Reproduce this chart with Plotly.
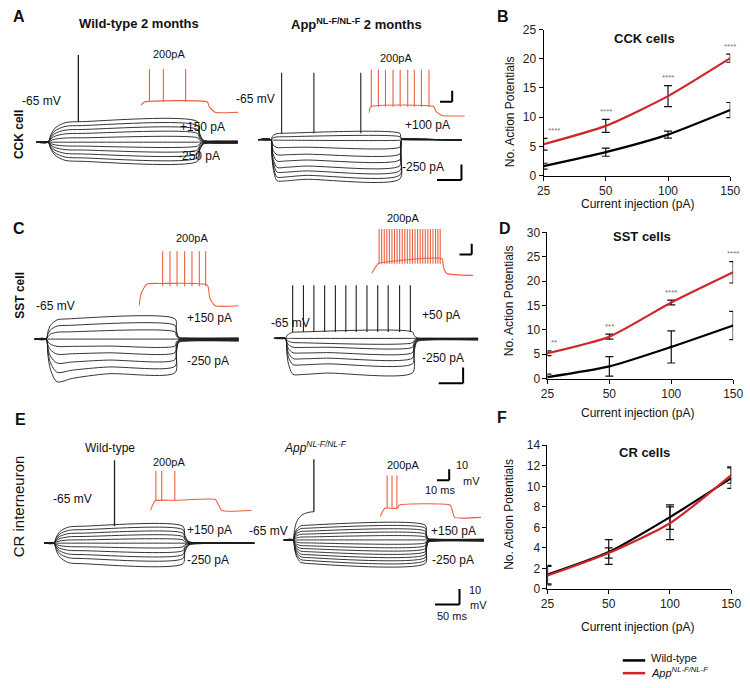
import plotly.graph_objects as go

W, H = 750, 688
RED = "#cf262c"
INSET_RED = "#ec5f40"
TRACE = "#1e1e1e"
FONT = "Liberation Sans, Arial, sans-serif"

# ---------------- summary data (panels B, D, F) ----------------
currents = ["25", "50", "100", "150"]

cck_wt = [1.6, 4.0, 7.0, 11.2]
cck_wt_err = [0.5, 0.7, 0.6, 1.3]
cck_app = [5.35, 8.5, 13.6, 20.1]
cck_app_err = [1.0, 1.1, 1.8, 0.7]
cck_stars = ["****", "****", "****", "****"]

sst_wt = [0.3, 2.5, 6.5, 10.9]
sst_wt_err = [0.6, 2.0, 3.3, 2.9]
sst_app = [5.2, 8.6, 15.6, 21.8]
sst_app_err = [0.5, 0.5, 0.5, 2.2]
sst_stars = ["**", "***", "****", "****"]

cr_wt = [1.4, 3.6, 7.0, 10.8]
cr_wt_err = [0.9, 1.2, 1.2, 1.0]
cr_app = [1.3, 3.5, 6.4, 11.1]
cr_app_err = [0.9, 0.5, 1.6, 0.8]

# ---------------- example recordings (ms, mV) ----------------
# step protocol: [step on, step off, end of sweep] (ms)
a_wt_timing = [24, 330, 412]
a_wt_levels = [-51.9, -54.4, -56.9, -59.4, -62.2, -65.0, -67.5, -70.0, -72.5, -75.0, -77.2]
a_wt_sag = [0, 0, 0, 0, 0, 0, 0, 0, 0, 0, 0]
a_wt_spikes = [86]
a_wt_peak = -9.4

a_app_timing = [26, 290, 416]
a_app_levels = [-60.9, -63.1, -65.3, -69.7, -74.1, -77.8, -81.6, -84.7, -87.5, -90.0]
a_app_sag = [0, 0, 0, 0.5, 1.0, 1.5, 2.0, 2.0, 2.5, 2.5]
a_app_spikes = [48, 114, 210]
a_app_peak = -22.2

c_wt_timing = [24, 288, 418]
c_wt_levels = [-52.1, -56.25, -60.4, -65.0, -69.4, -73.6, -78.1, -82.3, -86.4]
c_wt_sag = [0, 0, 0, 0, 0.5, 1.5, 3.0, 5.0, 7.3]

c_app_timing = [24, 284, 418]
c_app_levels = [-60.9, -65.0, -67.75, -70.6, -74.0, -77.5, -81.1, -86.9]
c_app_sag = [0, 0, 0, 0.3, 0.6, 1.0, 1.5, 2.2]
c_app_spikes = [38.6, 60.6, 82, 104, 126, 147.4, 168.6, 190.6, 212.6, 234, 257.4, 279.4]
c_app_peak = -31.0

e_wt_timing = [20, 284, 430]
e_wt_levels = [-54.2, -56.4, -58.6, -60.75, -62.9, -65.0, -67.3, -69.8, -72.3, -74.8, -78.1]
e_wt_sag = [0, 0, 0, 0, 0, 0, 0, 0, 0, 0, 0]
e_wt_spikes = [144]
e_wt_peak = -12.1

e_app_timing = [20, 290, 410]
e_app_levels = [-55.6, -57.5, -59.4, -61.25, -63.1, -65.0, -66.9, -68.75, -70.6,
                -72.5, -74.4, -76.25, -78.1, -80.0]
e_app_sag = [0, 0, 0, 0, 0, 0, 0, 0, 0, 0, 0, 0, 0, 0]
e_app_spikes = [62]
e_app_peak = -13.6
e_app_prespike_t = [20, 26, 36, 50, 62]
e_app_prespike_v = [-65, -54, -49.5, -47.5, -47]

# 200 pA insets: keypoints of the sub-threshold path, spike times, trough and peak
ia_wt_t = [0, 3, 54.4, 56, 60.8, 79.8]
ia_wt_v = [-58.3, -55.5, -55.5, -60, -65, -65]
ia_wt_spikes = [7, 18.4, 36.6]
ia_wt_range = [-55.5, -25.2]

ia_app_t = [0, 2, 53.4, 55, 60, 78.6]
ia_app_v = [-62.8, -57, -57, -61, -65, -65.5]
ia_app_spikes = [2.2, 8, 13.8, 20, 25.8, 32, 37.4, 43.2, 49.4]
ia_app_range = [-57, -23]

ic_wt_t = [0, 2, 6.6, 19, 56, 58, 62.4, 81.4]
ic_wt_v = [-65, -53, -45, -44.5, -46, -58, -65, -65]
ic_wt_spikes = [19.4, 25.4, 31.2, 37.4, 43.4, 49.4, 54.6]
ic_wt_range = [-47, -14.9]

ic_app_t = [0, 4, 6, 57.6, 59, 61.6, 83]
ic_app_v = [-65, -58, -55.7, -51.5, -60, -65, -66.8]
ic_app_spikes = [6.2, 8.3, 10.4, 12.5, 14.6, 16.7, 18.8, 20.9, 23.0, 25.1, 27.2, 29.3, 31.4,
                 33.5, 35.6, 37.7, 39.8, 41.9, 44.0, 46.1, 48.2, 50.3, 52.4, 54.3, 56.2]
ic_app_range = [-56, -24.2]

ie_wt_t = [0, 4, 20, 53.3, 55, 58.6, 82.6]
ie_wt_v = [-65, -56, -55.6, -54.8, -58, -65, -65]
ie_wt_spikes = [4.5, 9.3, 20]
ie_wt_range = [-56, -28.4]

ie_app_t = [0, 4, 14, 16, 57.3, 59, 61, 82.6]
ie_app_v = [-64.1, -56.6, -56.6, -53.6, -53.6, -58, -65, -65]
ie_app_spikes = [5.8, 9.8, 13.8]
ie_app_range = [-56.6, -26.6]

# ---------------- figure helpers ----------------
fig = go.Figure()
_n = [0]


def px_x(x):
    return x / W


def px_y(y):
    return 1 - y / H


def new_axes(box, xrange, yrange, visible=False):
    _n[0] += 1
    n = _n[0]
    xn = "x" if n == 1 else f"x{n}"
    yn = "y" if n == 1 else f"y{n}"
    xk = "xaxis" if n == 1 else f"xaxis{n}"
    yk = "yaxis" if n == 1 else f"yaxis{n}"
    x0, y0, x1, y1 = box
    fig.update_layout(**{
        xk: dict(domain=[px_x(x0), px_x(x1)], range=xrange, visible=visible, anchor=yn, fixedrange=True),
        yk: dict(domain=[px_y(y1), px_y(y0)], range=yrange, visible=visible, anchor=xn, fixedrange=True),
    })
    return xn, yn


MAIN_MS, MAIN_MV = 2.0, 0.625     # ms per px, mV per px of the sweep panels
INS_MS, INS_MV = 0.8, 0.9         # ms per px, mV per px of the 200 pA insets


def panel_axes(box, ybase, ms, mv):
    x0, y0, x1, y1 = box
    return new_axes(box, [0, ms * (x1 - x0)], [-65 + mv * (ybase - y1), -65 + mv * (ybase - y0)])


def add_sweeps(axes, levels, sags, timing, tau_on, tau_off, tail, rebound):
    xn, yn = axes
    t_on, t_off, t_end = timing
    base = -65.0
    for level, sag in zip(levels, sags):
        d = level - base
        pk = level - sag
        xs = [0, t_on, t_on + 0.4 * tau_on, t_on + tau_on, t_on + 2.5 * tau_on]
        ys = [base, base, base + 0.35 * (pk - base), base + 0.68 * (pk - base), base + 0.95 * (pk - base)]
        if sag:
            xs += [t_on + 6 * tau_on, t_on + 14 * tau_on]
            ys += [pk + 0.5 * (level - pk), pk + 0.9 * (level - pk)]
        else:
            xs += [t_on + 5 * tau_on]
            ys += [level]
        r = rebound * max(0.0, -d)
        xs += [t_off, t_off + 0.5 * tau_off, t_off + 1.5 * tau_off, t_off + 5 * tau_off, t_end]
        ys += [level, base + 0.45 * d, base + 0.1 * d + r, base + tail * d + 0.4 * r, base + tail * d]
        fig.add_trace(go.Scatter(x=xs, y=ys, mode="lines", xaxis=xn, yaxis=yn, showlegend=False,
                                 hoverinfo="skip",
                                 line=dict(color=TRACE, width=0.9, shape="spline", smoothing=0.8)))


def add_spikes(axes, times, bottom, peak, color, width):
    xn, yn = axes
    xs, ys = [], []
    for t in times:
        xs += [t, t, None]
        ys += [bottom, peak, None]
    fig.add_trace(go.Scatter(x=xs, y=ys, mode="lines", xaxis=xn, yaxis=yn, showlegend=False,
                             hoverinfo="skip", line=dict(color=color, width=width)))


def add_inset(axes, ts, vs, spikes, vrange):
    xn, yn = axes
    fig.add_trace(go.Scatter(x=ts, y=vs, mode="lines", xaxis=xn, yaxis=yn, showlegend=False,
                             hoverinfo="skip",
                             line=dict(color=INSET_RED, width=1.1, shape="spline", smoothing=0.5)))
    add_spikes(axes, spikes, vrange[0], vrange[1], INSET_RED, 1.1)


shapes = []


def scale_bar(axes, t0, v0, dt, dv, width=2):
    xn, yn = axes
    shapes.append(dict(type="line", xref=xn, yref=yn, x0=t0, x1=t0 + dt, y0=v0, y1=v0,
                       line=dict(color="black", width=width)))
    shapes.append(dict(type="line", xref=xn, yref=yn, x0=t0 + dt, x1=t0 + dt, y0=v0, y1=v0 + dv,
                       line=dict(color="black", width=width)))


# ---------------- A: CCK ----------------
ax_a_wt = panel_axes((30, 40, 240, 170), 138, MAIN_MS, MAIN_MV)
add_sweeps(ax_a_wt, a_wt_levels, a_wt_sag, a_wt_timing, 14, 8, 0.06, 0)
add_spikes(ax_a_wt, a_wt_spikes, a_wt_levels[0], a_wt_peak, TRACE, 1.3)

ax_a_app = panel_axes((257, 40, 475, 185), 135.5, MAIN_MS, MAIN_MV)
add_sweeps(ax_a_app, a_app_levels, a_app_sag, a_app_timing, 5, 3, 0.02, 0.12)
add_spikes(ax_a_app, a_app_spikes, a_app_levels[0], a_app_peak, TRACE, 1.1)
scale_bar(ax_a_app, 366, -90.75, 50, 10)

ins_a_wt = panel_axes((137, 55, 240, 115), 107.5, INS_MS, INS_MV)
add_inset(ins_a_wt, ia_wt_t, ia_wt_v, ia_wt_spikes, ia_wt_range)
ins_a_app = panel_axes((370, 55, 472, 115), 110.7, INS_MS, INS_MV)
add_inset(ins_a_app, ia_app_t, ia_app_v, ia_app_spikes, ia_app_range)
scale_bar(ins_a_app, 58.4, -52.4, 10, 10)

# ---------------- C: SST ----------------
ax_c_wt = panel_axes((28, 240, 240, 395), 339, MAIN_MS, MAIN_MV)
add_sweeps(ax_c_wt, c_wt_levels, c_wt_sag, c_wt_timing, 9, 5, 0.06, 0)

ax_c_app = panel_axes((273, 240, 485, 395), 338.3, MAIN_MS, MAIN_MV)
add_sweeps(ax_c_app, c_app_levels, c_app_sag, c_app_timing, 6, 6, 0.05, 0)
add_spikes(ax_c_app, c_app_spikes, c_app_levels[0], c_app_peak, TRACE, 1.1)
scale_bar(ax_c_app, 337.4, -93.6, 50, 10)

ins_c_wt = panel_axes((135, 240, 240, 310), 305, INS_MS, INS_MV)
add_inset(ins_c_wt, ic_wt_t, ic_wt_v, ic_wt_spikes, ic_wt_range)
ins_c_app = panel_axes((373, 218, 485, 280), 272, INS_MS, INS_MV)
add_inset(ins_c_app, ic_app_t, ic_app_v, ic_app_spikes, ic_app_range)
scale_bar(ins_c_app, 72, -47.6, 10, 10)

# ---------------- E: CR ----------------
ax_e_wt = panel_axes((38, 455, 255, 580), 547.3, MAIN_MS, MAIN_MV)
add_sweeps(ax_e_wt, e_wt_levels, e_wt_sag, e_wt_timing, 12, 8, 0.02, 0)
add_spikes(ax_e_wt, e_wt_spikes, e_wt_levels[0], e_wt_peak, TRACE, 1.3)

ax_e_app = panel_axes((283, 455, 490, 615), 544, MAIN_MS, MAIN_MV)
add_sweeps(ax_e_app, e_app_levels, e_app_sag, e_app_timing, 6, 4, 0.05, 0)
fig.add_trace(go.Scatter(x=e_app_prespike_t, y=e_app_prespike_v, mode="lines",
                         xaxis=ax_e_app[0], yaxis=ax_e_app[1], showlegend=False, hoverinfo="skip",
                         line=dict(color=TRACE, width=0.9, shape="spline")))
add_spikes(ax_e_app, e_app_spikes, e_app_prespike_v[-1], e_app_peak, TRACE, 1.3)
scale_bar(ax_e_app, 310, -106.25, 50, 10)

ins_e_wt = panel_axes((146.7, 460, 255, 520), 514, INS_MS, INS_MV)
add_inset(ins_e_wt, ie_wt_t, ie_wt_v, ie_wt_spikes, ie_wt_range)
ins_e_app = panel_axes((381.7, 460, 490, 525), 521, INS_MS, INS_MV)
add_inset(ins_e_app, ie_app_t, ie_app_v, ie_app_spikes, ie_app_range)
scale_bar(ins_e_app, 46.6, -30.8, 10, 10)

# ---------------- B, D, F: summary charts ----------------
annotations = []


def summary_chart(box, ymax, dtick, wt, wt_err, app, app_err, stars):
    xn, yn = new_axes(box, [0, len(currents) - 1], [0, ymax])
    xk = "xaxis" + xn[1:]
    yk = "yaxis" + yn[1:]
    fig.update_layout(**{
        xk: dict(visible=True, showline=True, linecolor="black", linewidth=1, ticks="outside",
                 ticklen=4, tickcolor="black", showgrid=False, zeroline=False,
                 tickvals=list(range(len(currents))), ticktext=currents,
                 ticklabeloverflow="allow",
                 tickfont=dict(size=12, color="#222", family=FONT)),
        yk: dict(visible=True, showline=True, linecolor="black", linewidth=1, ticks="outside",
                 ticklen=4, tickcolor="black", showgrid=False, zeroline=False, dtick=dtick,
                 ticklabeloverflow="allow",
                 tickfont=dict(size=12, color="#222", family=FONT)),
    })
    xs = list(range(len(currents)))
    for vals, errs, color in ((wt, wt_err, "black"), (app, app_err, RED)):
        fig.add_trace(go.Scatter(x=xs, y=vals, mode="lines", xaxis=xn, yaxis=yn, showlegend=False,
                                 line=dict(color=color, width=2.2, shape="spline", smoothing=0.6),
                                 error_y=dict(type="data", array=errs, visible=True, color="#111",
                                              thickness=1.2, width=4)))
    if stars:
        for i, s in enumerate(stars):
            annotations.append(dict(x=i, y=app[i] + app_err[i], xref=xn, yref=yn, text=s,
                                    showarrow=False, yshift=8, xshift=2 if i == 0 else 0,
                                    xanchor="left" if i == 0 else "center", yanchor="middle",
                                    font=dict(size=8, color="#777", family=FONT)))
    return xn, yn


summary_chart((549, 23, 740, 172), 25, 5, cck_wt, cck_wt_err, cck_app, cck_app_err, cck_stars)
summary_chart((553, 230, 743, 379.3), 30, 5, sst_wt, sst_wt_err, sst_app, sst_app_err, sst_stars)
summary_chart((553, 447.4, 741, 594), 14, 2, cr_wt, cr_wt_err, cr_app, cr_app_err, None)


# ---------------- text ----------------
def label(text, x, y, size=12, anchor="center", angle=0, color="#111"):
    annotations.append(dict(x=px_x(x), y=px_y(y), xref="paper", yref="paper", text=text,
                            showarrow=False, xanchor=anchor, yanchor="middle", textangle=angle,
                            font=dict(size=size, color=color, family=FONT)))


for t, x, y in (("A", 12, 10), ("B", 507, 10), ("C", 12, 226), ("D", 510, 226),
                ("E", 14, 421), ("F", 506, 419)):
    label(f"<b>{t}</b>", x, y, size=16)

label("<b>Wild-type 2 months</b>", 135, 17, 13)
label("<b>App<sup>NL-F/NL-F</sup> 2 months</b>", 358, 17, 13)
label("<b>CCK cell</b>", 13, 130, 12, angle=-90)
label("<b>SST cell</b>", 13, 294, 12, angle=-90)
label("CR interneuron", 12, 510, 15, angle=-90)

for txt, x, y in (("-65 mV", 35, 96), ("-65 mV", 254, 94), ("-65 mV", 50, 305), ("-65 mV", 290, 323),
                  ("-65 mV", 67, 502), ("-65 mV", 268, 535)):
    label(txt, x, y, 12)
for txt, x, y in (("200pA", 166, 48), ("200pA", 398, 52), ("200pA", 189, 236), ("200pA", 405, 215),
                  ("200pA", 166, 464), ("200pA", 405, 468)):
    label(txt, x, y, 11)
for txt, x, y in (("+150 pA", 200, 123), ("-250 pA", 196, 152), ("+100 pA", 430, 120), ("-250 pA", 426, 163),
                  ("+150 pA", 207, 317), ("-250 pA", 206, 361), ("+50 pA", 444, 314), ("-250 pA", 446, 358),
                  ("+150 pA", 207, 534), ("-250 pA", 206, 564), ("+150 pA", 457, 535), ("-250 pA", 456, 564)):
    label(txt, x, y, 12)
label("Wild-type", 105, 450, 12)
label("<i>App<sup>NL-F/NL-F</sup></i>", 316, 449, 12)
label("10", 457, 468, 11, anchor="left")
label("mV", 465, 484, 11, anchor="left")
label("10 ms", 443, 493, 11)
label("10", 471, 595, 11, anchor="left")
label("mV", 472, 610, 11, anchor="left")
label("50 ms", 455, 622, 11)

# summary chart titles and axis titles
label("<b>CCK cells</b>", 652, 32, 13)
label("<b>SST cells</b>", 650, 234, 13)
label("<b>CR cells</b>", 652, 455, 13)
for y in (201, 414, 633):
    label("Current injection (pA)", 645, y, 12)
for y in (107, 300, 518):
    label("No. Action Potentials", 514, y, 12, angle=-90)

# manual legend
shapes.append(dict(type="line", xref="paper", yref="paper", x0=px_x(630), x1=px_x(653),
                   y0=px_y(667), y1=px_y(667), line=dict(color="black", width=2.5)))
shapes.append(dict(type="line", xref="paper", yref="paper", x0=px_x(630), x1=px_x(653),
                   y0=px_y(680), y1=px_y(680), line=dict(color=RED, width=2.5)))
label("Wild-type", 657, 665, 11, anchor="left")
label("<i>App<sup>NL-F/NL-F</sup></i>", 657, 679, 11, anchor="left")

fig.update_layout(width=W, height=H, autosize=False, margin=dict(l=0, r=0, t=0, b=0),
                  paper_bgcolor="white", plot_bgcolor="rgba(0,0,0,0)",
                  font=dict(family=FONT, color="#111"),
                  shapes=shapes, annotations=annotations, showlegend=False)

fig.write_html(
    "out.html", config={"displayModeBar": False},
    post_script=("document.documentElement.style.overflow='hidden';"
                 "document.body.style.overflow='hidden';"
                 "document.body.style.margin='0px';document.body.style.padding='0px';"))
